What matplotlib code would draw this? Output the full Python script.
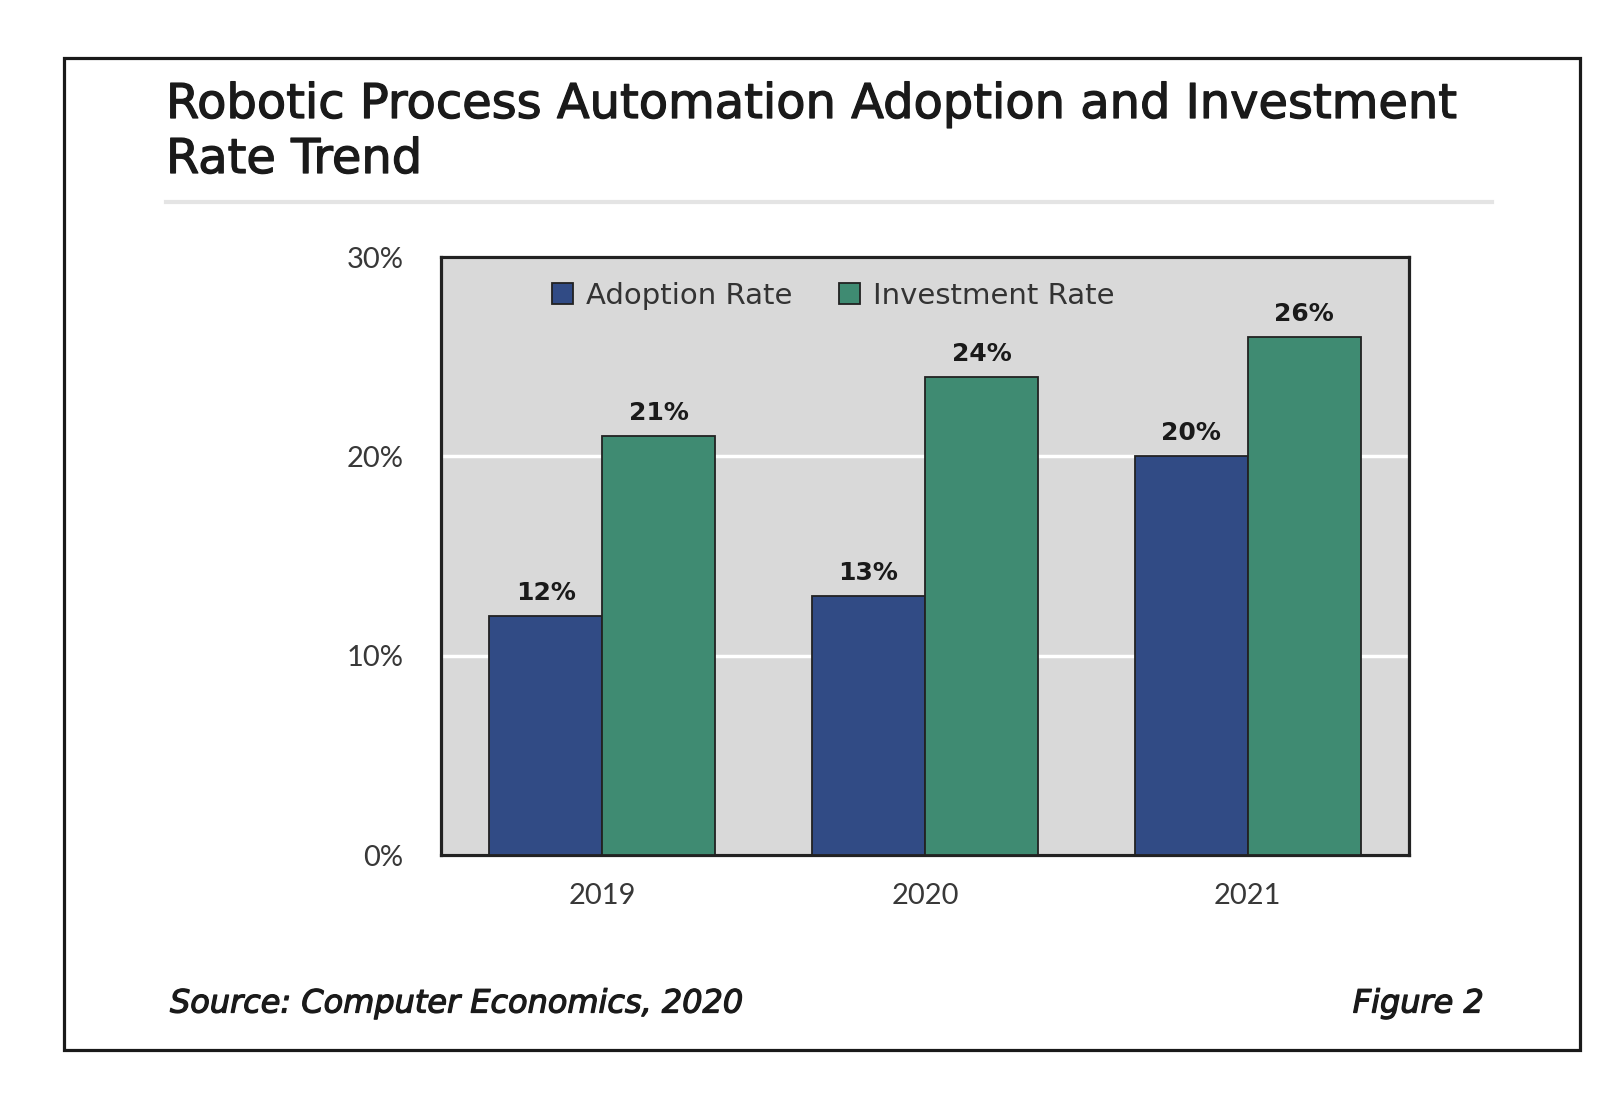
import matplotlib.pyplot as plt
import matplotlib.patheffects as pe
from matplotlib.patches import Rectangle
from matplotlib.lines import Line2D
import numpy as np

years = ['2019', '2020', '2021']
adoption = [12, 13, 20]
investment = [21, 24, 26]
yticks = [0, 10, 20, 30]

blue = '#314b85'
green = '#3f8b72'

plt.rcParams['font.family'] = ['DejaVu Sans']

W, H = 1600, 1102
fig = plt.figure(figsize=(W / 100, H / 100), dpi=100)


def fx(px):
    return px / W


def fy(py):
    return 1 - py / H


# slightly heavier strokes for the title / footer text
heavy = [pe.withStroke(linewidth=0.9, foreground='#1a1a1a')]

# outer frame
fig.patches.append(Rectangle((fx(64), fy(1050)), fx(1580) - fx(64), fy(58) - fy(1050),
                             transform=fig.transFigure, fill=False, lw=2.3, ec='#1a1a1a'))
# title + separator
fig.text(fx(166), fy(118), 'Robotic Process Automation Adoption and Investment',
         fontsize=34.5, va='baseline', ha='left', color='#1a1a1a', path_effects=heavy)
fig.text(fx(166), fy(173), 'Rate Trend',
         fontsize=34.5, va='baseline', ha='left', color='#1a1a1a', path_effects=heavy)
fig.add_artist(Line2D([fx(166), fx(1492)], [fy(202), fy(202)],
                      transform=fig.transFigure, color='#e4e4e4', lw=3))

ax = fig.add_axes([fx(441), fy(855), fx(1409) - fx(441), fy(257) - fy(855)])
ax.set_facecolor('#d9d9d9')
x = np.arange(len(years))
w = 0.35
b1 = ax.bar(x - w / 2, adoption, w, color=blue, ec='#222222', lw=1.3, label='Adoption Rate', zorder=3)
b2 = ax.bar(x + w / 2, investment, w, color=green, ec='#222222', lw=1.3, label='Investment Rate', zorder=3)
for bars, vals in ((b1, adoption), (b2, investment)):
    for r, v in zip(bars, vals):
        ax.text(r.get_x() + r.get_width() / 2, v + 0.55, f'{v}%', ha='center', va='bottom',
                fontsize=18, fontweight='bold', color='#1a1a1a')

ax.set_xlim(-0.5, 2.5)
ax.set_ylim(0, 30)
ax.set_yticks(yticks)
ax.set_yticklabels([f'{t}%' for t in yticks])
ax.set_xticks(x)
ax.set_xticklabels(years)
ax.tick_params(length=0, labelsize=21, labelcolor='#383838')
for lab in ax.get_xticklabels() + ax.get_yticklabels():
    lab.set_family('Lato')
ax.tick_params(axis='y', pad=27)
ax.tick_params(axis='x', pad=20)
ax.yaxis.grid(True, color='white', lw=2.5, zorder=0)
ax.set_axisbelow(True)
for s in ax.spines.values():
    s.set_linewidth(2.3)
    s.set_color('#222222')

fig.legend(handles=[b1, b2], loc='center left', bbox_to_anchor=(fx(552), fy(296)),
           ncol=2, frameon=False, fontsize=21, handlelength=0.72, handleheight=0.72,
           columnspacing=1.6, handletextpad=0.45, borderpad=0, borderaxespad=0,
           labelcolor='#333333')

fig.text(fx(170), fy(1004), 'Source: Computer Economics, 2020', fontsize=23,
         style='italic', va='center', ha='left', color='#1a1a1a', path_effects=heavy)
fig.text(fx(1484), fy(1004), 'Figure 2', fontsize=23,
         style='italic', va='center', ha='right', color='#1a1a1a', path_effects=heavy)

fig.savefig('out.png', dpi=100, facecolor='white')
